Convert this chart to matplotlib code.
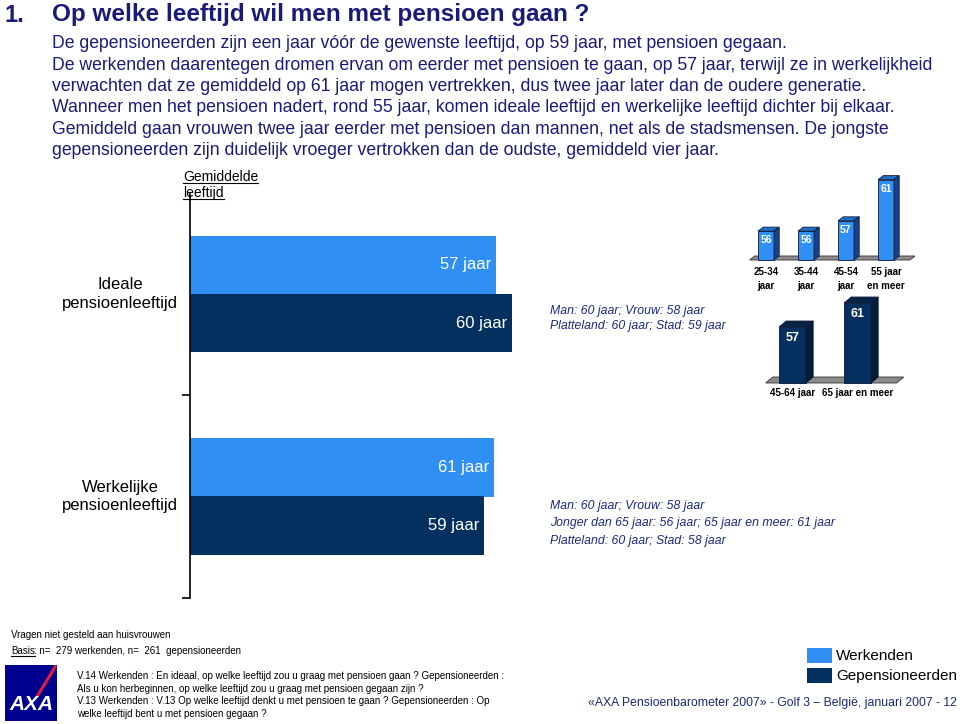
import numpy as np
import matplotlib.pyplot as plt
from matplotlib.patches import Polygon, Rectangle
from matplotlib.lines import Line2D

plt.rcParams['font.family'] = ['Liberation Sans', 'DejaVu Sans']

# ---- data ----
groups = ['Werkenden', 'Gepensioneerden']
ideaal = [57, 60]
werkelijk = [61, 59]
age_werk = ['25-34\njaar', '35-44\njaar', '45-54\njaar', '55 jaar\nen meer']
val_werk = [56, 56, 57, 61]
age_gep = ['45-64 jaar', '65 jaar en meer']
val_gep = [57, 61]

c_werk = '#2F8FF2'
c_gep = '#04305F'
navy = '#1A1A78'

W, H = 960, 724
fig = plt.figure(figsize=(9.6, 7.24), dpi=100)


def rect(x0, y0, x1, y1):
    return [x0 / W, 1 - y1 / H, (x1 - x0) / W, (y1 - y0) / H]


def px(x, y):
    return x / W, 1 - y / H


def ftext(x, y, s, **kw):
    return fig.text(*px(x, y), s, **kw)


def underline(t, ybase, dy=2):
    # line just below the baseline of a text
    fig.canvas.draw()
    bb = t.get_window_extent()
    yy = 1 - (ybase + dy) / H
    fig.add_artist(Line2D([bb.x0 / W, bb.x1 / W], [yy, yy],
                          color='black', lw=0.8))


# ---- header ----
ftext(5, 15, '1.', fontsize=17, fontweight='bold', color=navy, va='center')
ftext(52, 15, 'Op welke leeftijd wil men met pensioen gaan ?', fontsize=17.5,
      fontweight='bold', color=navy, va='center')
body = [
    'De gepensioneerden zijn een jaar vóór de gewenste leeftijd, op 59 jaar, met pensioen gegaan.',
    'De werkenden daarentegen dromen ervan om eerder met pensioen te gaan, op 57 jaar, terwijl ze in werkelijkheid',
    'verwachten dat ze gemiddeld op 61 jaar mogen vertrekken, dus twee jaar later dan de oudere generatie.',
    'Wanneer men het pensioen nadert, rond 55 jaar, komen ideale leeftijd en werkelijke leeftijd dichter bij elkaar.',
    'Gemiddeld gaan vrouwen twee jaar eerder met pensioen dan mannen, net als de stadsmensen. De jongste',
    'gepensioneerden zijn duidelijk vroeger vertrokken dan de oudste, gemiddeld vier jaar.',
]
for i, line in enumerate(body):
    ftext(52, 44 + i * 21.3, line, fontsize=12.7, color=navy, va='center')

# ---- main horizontal bars (two panels, own scales) ----
panels = [(193, 395, ideaal, 65.3, 'Ideale\npensioenleeftijd',
           ['Man: 60 jaar; Vrouw: 58 jaar', 'Platteland: 60 jaar; Stad: 59 jaar'],
           [311, 326]),
          (395, 598, werkelijk, 70.3, 'Werkelijke\npensioenleeftijd',
           ['Man: 60 jaar; Vrouw: 58 jaar',
            'Jonger dan 65 jaar: 56 jaar; 65 jaar en meer: 61 jaar',
            'Platteland: 60 jaar; Stad: 58 jaar'],
           [506, 523, 541])]
for top, bot, vals, xmax, lab, notes, ny in panels:
    ax = fig.add_axes(rect(190, top, 540, bot))
    ax.barh([1, 0], vals, height=1.0, color=[c_werk, c_gep], zorder=2)
    ax.set_xlim(0, xmax)
    ax.set_ylim(-1.24, 2.24)
    for y, v in zip([1, 0], vals):
        ax.text(v - 0.8, y, '%d jaar' % v, color='white', fontsize=12,
                ha='right', va='center')
    for s in ['top', 'right', 'bottom']:
        ax.spines[s].set_visible(False)
    ax.spines['left'].set_linewidth(1.2)
    ax.set_xticks([])
    ax.set_yticks([-1.24])
    ax.set_yticklabels([])
    ax.tick_params(axis='y', length=6, width=1.2, direction='out')
    ax.patch.set_alpha(0)
    mid = (top + bot) / 2
    ftext(120, mid, lab, fontsize=12, ha='center', va='center',
          linespacing=1.3)
    for s, yy in zip(notes, ny):
        ftext(550, yy, s, fontsize=8.8, style='italic', color='#1A2A80',
              va='center')

t1 = ftext(183, 181, 'Gemiddelde', fontsize=10, va='baseline')
t2 = ftext(183, 197, 'leeftijd', fontsize=10, va='baseline')


# ---- 3D style small bar charts ----
def bars3d(r, vals, labels, base, xl, yl, width, dx, dy, color, top_col,
           side_col, lab_y, val_off, fs):
    ax = fig.add_axes(rect(*r))
    ax.set_xlim(*xl)
    ax.set_ylim(*yl)
    ax.axis('off')
    x = np.arange(len(vals))
    x0, x1 = -0.5 + (0.5 - width / 2) * 0.3, len(vals) - 0.5 + 0.1
    ax.add_patch(Polygon([(x0, base), (x1, base), (x1 + dx, base + dy),
                          (x0 + dx, base + dy)], closed=True,
                         facecolor='#8C8C8C', edgecolor='#333333', lw=0.6,
                         zorder=1))
    ax.bar(x, np.array(vals) - base, bottom=base, width=width, color=color,
           edgecolor='#0B1A3A', lw=0.6, zorder=3)
    for xi, v in zip(x, vals):
        l, rr = xi - width / 2, xi + width / 2
        ax.add_patch(Polygon([(l, v), (rr, v), (rr + dx, v + dy), (l + dx, v + dy)],
                             closed=True, facecolor=top_col, edgecolor='#0B1A3A',
                             lw=0.6, zorder=3))
        ax.add_patch(Polygon([(rr, base), (rr + dx, base + dy), (rr + dx, v + dy),
                              (rr, v)], closed=True, facecolor=side_col,
                             edgecolor='#0B1A3A', lw=0.6, zorder=3))
        ax.text(xi, v - val_off, str(v), color='white', fontsize=fs,
                fontweight='bold', ha='center', va='center', zorder=4)
        ax.text(xi, lab_y, labels[xi], fontsize=7, fontweight='bold',
                ha='center', va='top', clip_on=False, linespacing=1.5)


bars3d((740, 170, 915, 262), val_werk, age_werk, 53.2,
       (-0.65, 3.725), (53.2 - 2 / 10.3, 53.2 + 90 / 10.3), 0.4, 0.13, 0.39,
       c_werk, '#1F6FC8', '#15448A', 53.2 - 7 / 10.3, 0.9, 7.5)
bars3d((750, 290, 905, 385), val_gep, age_gep, 47.67,
       (-0.654, 1.73), (47.67 - 2 / 6, 47.67 + 93 / 6), 0.415, 0.11, 1.0,
       c_gep, '#0A2448', '#031C3A', 47.67 - 5 / 6, 1.8, 9)

# ---- footer ----
ftext(11, 635, 'Vragen niet gesteld aan huisvrouwen', fontsize=7, va='center')
t3 = ftext(11, 654, 'Basis', fontsize=7, va='baseline')
ftext(34, 654, ': n=  279 werkenden, n=  261  gepensioneerden', fontsize=7,
      va='baseline')
notes = ['V.14 Werkenden : En ideaal, op welke leeftijd zou u graag met pensioen gaan ? Gepensioneerden :',
         'Als u kon herbeginnen, op welke leeftijd zou u graag met pensioen gegaan zijn ?',
         'V.13 Werkenden : V.13 Op welke leeftijd denkt u met pensioen te gaan ? Gepensioneerden : Op',
         'welke leeftijd bent u met pensioen gegaan ?']
for i, s in enumerate(notes):
    ftext(77, 676 + i * 12.7, s, fontsize=7, va='center')

# AXA logo
fig.add_artist(Rectangle(px(5, 721), 52 / W, 56 / H, facecolor='#00008F',
                         edgecolor='none'))
fig.add_artist(Line2D([38 / W, 55 / W], [1 - 695 / H, 1 - 667 / H],
                      color='#E0203A', lw=2.2))
ftext(31, 705, 'AXA', fontsize=15, fontweight='bold', style='italic',
      color='white', ha='center', va='center')

# legend
for k, (g, c) in enumerate(zip(groups, [c_werk, c_gep])):
    fig.add_artist(Rectangle(px(807, 663 + 20 * k), 25 / W, 15 / H,
                             facecolor=c, edgecolor='none'))
    ftext(836, 656 + 20 * k, g, fontsize=11, va='center')
ftext(957, 703, '«AXA Pensioenbarometer 2007» - Golf 3 – België, januari 2007 - 12',
      fontsize=8.8, color='#1A2A70', ha='right', va='center')

underline(t1, 181)
underline(t2, 197)
underline(t3, 654, 1.5)

fig.savefig('out.png', dpi=100)
